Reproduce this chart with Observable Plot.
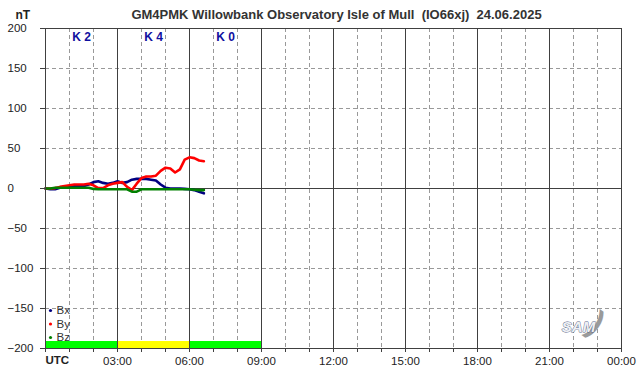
<!DOCTYPE html>
<html>
<head>
<meta charset="utf-8">
<script src="https://cdn.jsdelivr.net/npm/d3@7"></script>
<script src="https://cdn.jsdelivr.net/npm/@observablehq/plot@0.6"></script>
<style>
  html, body { margin: 0; padding: 0; background: #fff; }
</style>
</head>
<body>
<div id="chart"></div>
<script>
// ---- data (hours UTC, nT) ----
const titleText = "GM4PMK Willowbank Observatory Isle of Mull  (IO66xj)  24.06.2025";
const hours = [0,0.2,0.4,0.6,0.8,1.0,1.2,1.4,1.6,1.8,2.0,2.2,2.4,2.6,2.8,3.0,3.2,3.4,3.6,3.8,4.0,4.2,4.4,4.6,4.8,5.0,5.2,5.4,5.6,5.8,6.0,6.2,6.4,6.6];
const bx = [0,-1,-1,1,2,2,3,3,3,5,8,9,7,6,7,9,7,8,11,12,12,12,11,10,5,1,0,0,0,-0.5,-1,-2,-4,-6];
const by = [0,0,0.5,2,3,4,5,5,5,6,4,0.5,0.5,4,6,7,8,2,-2,6,13,15,15,16,22,26,25,20,24,36,39,38,35,34];
const bz = [0,0,1,1,1,1,1,1,1,1,-0.5,-1,-1,-1,-1,-1,-1,-1,-4,-4,-1,-1,-1,-1,-1,-1,-1,-1,-1,-1,-1,-1.5,-2,-2];
const seriesNames = ["Bx", "By", "Bz"];
const seriesColors = ["#000080", "#ff0000", "#008000"];
const kStart = [0, 3, 6];
const kEnd = [3, 6, 9];
const kValues = ["K 2", "K 4", "K 0"];
const kColors = ["#00ff00", "#ffff00", "#00ff00"];
const yTicks = [-200, -150, -100, -50, 0, 50, 100, 150, 200];
const xTickHours = d3.range(0, 25);

// ---- build tables ----
const seriesValues = [bx, by, bz];
const rows = [];
seriesNames.forEach((name, i) => hours.forEach((h, j) => rows.push({series: name, h, v: seriesValues[i][j]})));
const kRows = kStart.map((s, i) => ({s, e: kEnd[i], label: kValues[i], color: kColors[i], mid: (s + kEnd[i]) / 2}));
const dashedX = xTickHours.filter(h => h % 3 !== 0);
const solidX = xTickHours.filter(h => h % 3 === 0);
const dashedY = yTicks.filter(v => v !== 0 && Math.abs(v) !== 200);
const fmt = h => (h === 0 ? "" : h % 3 === 0 ? String(h % 24).padStart(2, "0") + ":00" : "");

const legendMarks = seriesNames.flatMap((n, i) => [
  Plot.dot([n], {frameAnchor: "bottom-left", dx: 5, dy: -38 + i * 13.5, r: 1.6, fill: seriesColors[i], stroke: null}),
  Plot.text([n], {frameAnchor: "bottom-left", dx: 11, dy: -38 + i * 13.5, textAnchor: "start", lineAnchor: "middle", fill: "#333", fontSize: 11.5})
]);

const chart = Plot.plot({
  width: 642,
  height: 376,
  marginLeft: 45,
  marginRight: 21,
  marginTop: 28,
  marginBottom: 28,
  style: {fontFamily: "'Liberation Sans', Arial, sans-serif", fontSize: "11px", color: "#222", background: "#fff"},
  x: {domain: [0, 24]},
  y: {domain: [-200, 200]},
  color: {domain: seriesNames, range: seriesColors},
  marks: [
    Plot.ruleY(dashedY, {stroke: "#999", strokeDasharray: "4,3"}),
    Plot.ruleX(dashedX, {stroke: "#999", strokeDasharray: "4,3"}),
    Plot.rectY(kRows, {x1: "s", x2: "e", y1: -200, y2: -191.25, fill: "color"}),
    Plot.ruleX(solidX, {stroke: "#404040", strokeWidth: 1}),
    Plot.ruleY([0, 200], {stroke: "#404040"}),
    Plot.line(rows, {x: "h", y: "v", z: "series", stroke: "series", strokeWidth: 2.6}),
    Plot.text(kRows, {x: "mid", text: "label", frameAnchor: "top", dy: 9, lineAnchor: "middle", fill: "#1010a0", fontWeight: "bold", fontSize: 12}),
    ...legendMarks,
    Plot.axisY({ticks: yTicks, tickSize: 5, tickPadding: 33, textAnchor: "start", stroke: "#404040", fill: "#222", label: null, fontSize: 11.5}),
    Plot.ruleX([0], {stroke: "#404040"}),
    Plot.axisX({ticks: xTickHours, tickSize: 4, tickPadding: 4, tickFormat: fmt, stroke: "#404040", fill: "#222", label: null, fontSize: 11.5}),
    Plot.ruleY([-200], {stroke: "#404040"}),
    Plot.text(["UTC"], {x: 0, frameAnchor: "bottom", dy: 12, lineAnchor: "middle", textAnchor: "start", fontWeight: "bold", fill: "#222", fontSize: 11.5}),
    Plot.text(["nT"], {frameAnchor: "top-left", dx: -30, dy: -13, lineAnchor: "middle", textAnchor: "start", fontWeight: "bold", fill: "#222", fontSize: 12}),
    Plot.text([titleText], {frameAnchor: "top", dx: 3, dy: -14, lineAnchor: "middle", fontWeight: "bold", fontSize: 13, fill: "#333"}),
    Plot.text([")"], {frameAnchor: "bottom-right", dx: -25, dy: -25, lineAnchor: "middle", fontSize: 34, fontWeight: "bold", fill: "#9a9a9a", rotate: 35, textAnchor: "middle"}),
    Plot.text(["SAM"], {frameAnchor: "bottom-right", dx: -43, dy: -21, lineAnchor: "middle", fontStyle: "italic", fontWeight: "bold", fontSize: 15, fill: "#eef0f4", stroke: "#5a6a8a", strokeWidth: 0.9, textAnchor: "middle"})
  ]
});
document.getElementById("chart").append(chart);
</script>
</body>
</html>
